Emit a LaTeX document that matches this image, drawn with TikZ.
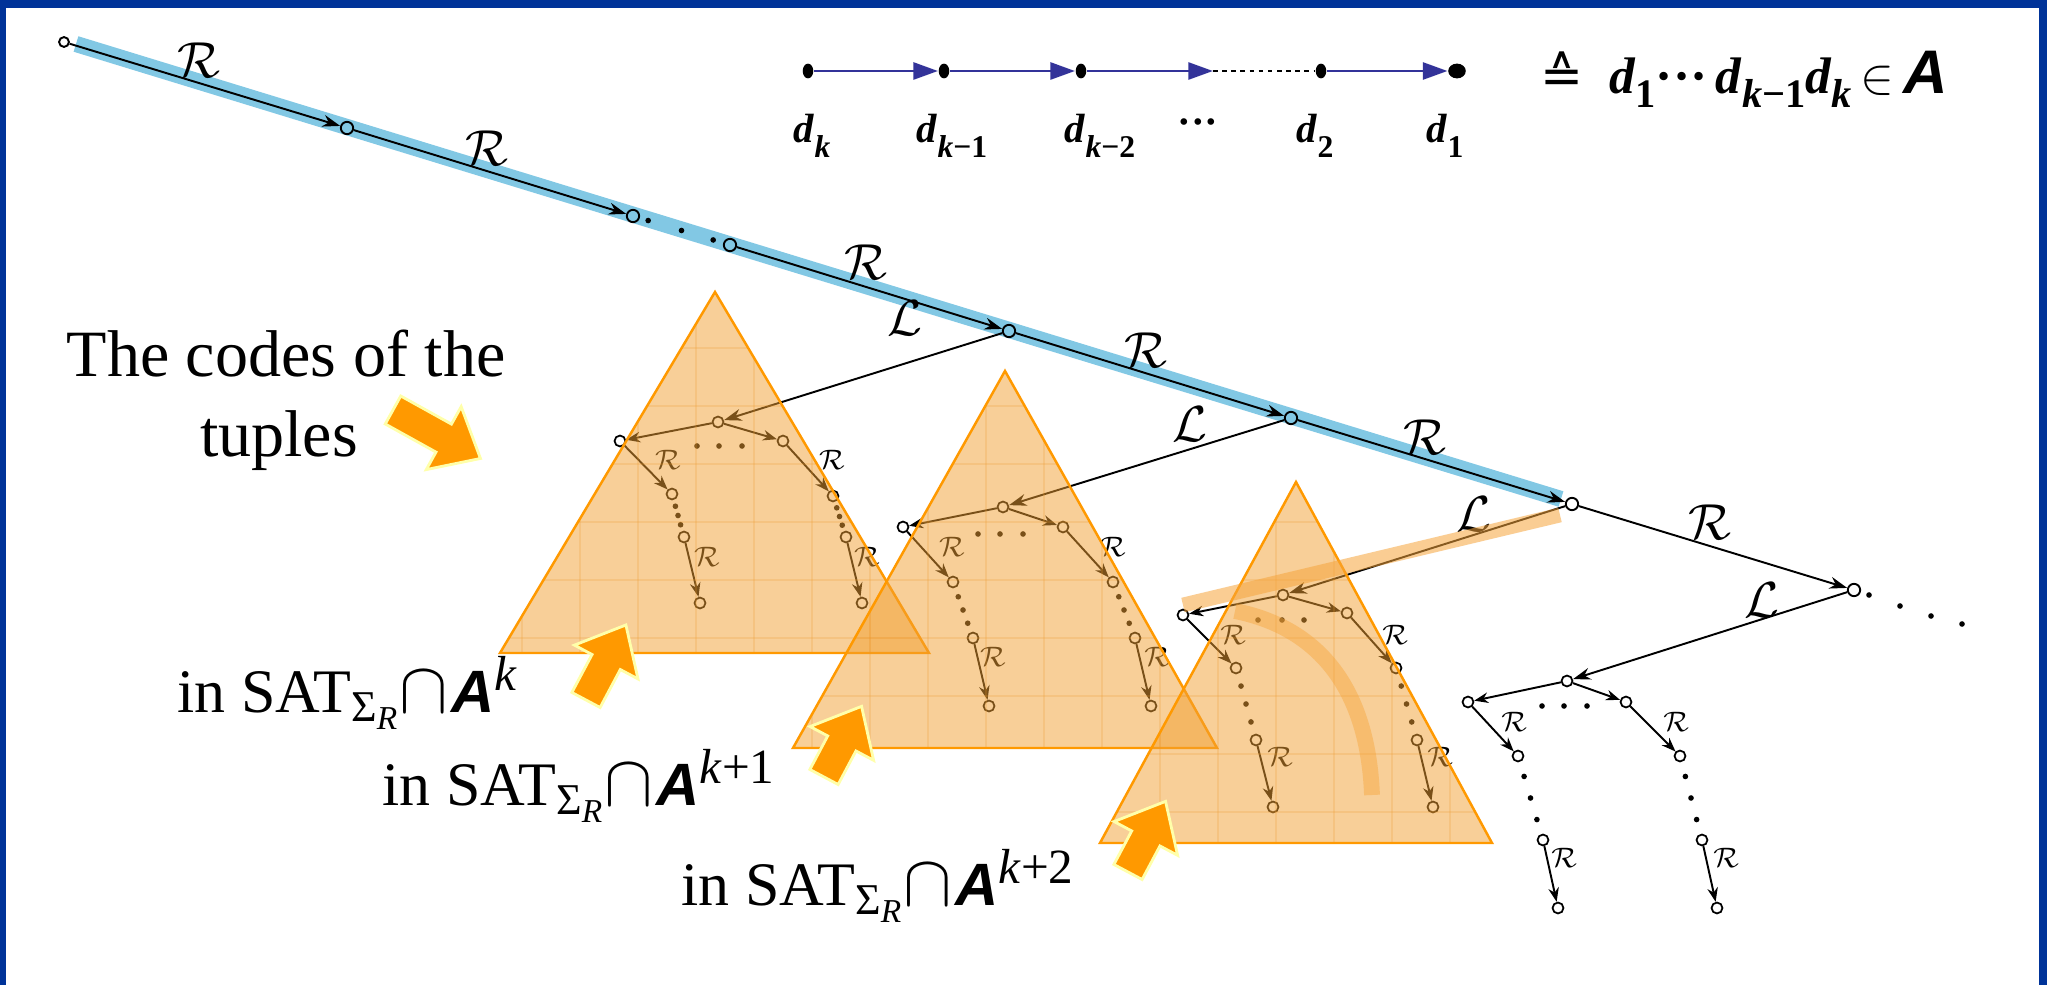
\documentclass[tikz,border=0pt]{standalone}
\usepackage{fontspec}
\setmainfont{Liberation Serif}
\newfontfamily\sansA{Liberation Sans}
\newfontfamily\dejavu{DejaVu Sans}
\usetikzlibrary{arrows.meta,shapes.geometric}
\definecolor{frameblue}{RGB}{0,51,153}
\definecolor{bandblue}{RGB}{130,200,228}
\definecolor{triedge}{RGB}{255,153,0}
\definecolor{trifill}{RGB}{242,160,50}
\definecolor{gridc}{RGB}{235,150,40}
\definecolor{arrowfill}{RGB}{255,153,0}
\definecolor{arrowedge}{RGB}{255,255,170}
\definecolor{navyline}{RGB}{51,51,153}
\definecolor{bandorange}{RGB}{246,165,60}
\newcommand{\Abold}{{\sansA\bfseries\itshape A}}
\newcommand{\satlab}[1]{in SAT\raisebox{-2.6pt}{\fontsize{12.5pt}{13pt}\selectfont Σ\raisebox{-2.4pt}{\fontsize{9.5pt}{10pt}\selectfont\textit{R}}}\hspace{0.5pt}{\fontsize{22pt}{22pt}\selectfont$\cap$}\hspace{1pt}{\fontsize{17pt}{17pt}\selectfont\Abold}\raisebox{6pt}{\fontsize{14pt}{14pt}\selectfont #1}}
\newcommand{\dl}[1]{\textbf{\textit{d}}\raisebox{-4pt}{\fontsize{9pt}{9pt}\selectfont\textbf{#1}}}
\newcommand{\dF}[1]{\textbf{\textit{d}}\raisebox{-3.9pt}{\fontsize{11.5pt}{12pt}\selectfont\textbf{#1}}}
\newcommand{\blockarrow}[3]{%
 \begin{scope}[shift={#1},rotate=#2]
 \filldraw[fill=arrowfill,draw=arrowedge,line width=0.8pt,line join=miter] (0,-16) -- (#3-42,-16) -- (#3-42,-36) -- (#3,0) -- (#3-42,36) -- (#3-42,16) -- (0,16) -- cycle;
 \end{scope}}
\newcommand{\tri}[3]{%
 \fill[trifill,opacity=0.5] #1 -- #2 -- #3 -- cycle;
 \begin{scope}
 \clip #1 -- #2 -- #3 -- cycle;
 \foreach \gx in {0,58,...,2030} {\draw[gridc,line width=0.3pt,opacity=0.2] (\gx,0) -- (\gx,985);}
 \foreach \gy in {0,58,...,980} {\draw[gridc,line width=0.3pt,opacity=0.2] (0,\gy) -- (2047,\gy);}
 \end{scope}
 \draw[triedge,line width=0.7pt,line join=miter] #1 -- #2 -- #3 -- cycle;}
\begin{document}
\begin{tikzpicture}[x=0.01cm,y=-0.01cm,
 mn/.style={circle,draw,line width=0.55pt,inner sep=0pt,minimum size=3.5pt},
 tn/.style={circle,draw,line width=0.5pt,inner sep=0pt,minimum size=3.1pt},
 med/.style={line width=0.55pt,-{Stealth[length=5pt,width=3.4pt]}},
 ted/.style={line width=0.55pt,-{Stealth[length=4pt,width=3pt]}},
 sdot/.style={circle,fill,inner sep=0pt,minimum size=1.6pt},
 bigcal/.style={font=\fontsize{13.5pt}{14pt}\selectfont},
 smallcal/.style={font=\fontsize{8pt}{9pt}\selectfont},
 dnode/.style={ellipse,fill=black,inner sep=0pt,minimum width=3pt,minimum height=4.2pt},
 nav/.style={navyline,line width=0.85pt,-{Triangle[length=7pt,width=4.8pt]}},
 dlabel/.style={anchor=base,font=\fontsize{11.6pt}{12pt}\selectfont}]
\fill[white] (0,0) rectangle (2047,985);
\useasboundingbox (0,0) rectangle (2047,985);
\fill[frameblue] (0,0) rectangle (2047,8);
\fill[frameblue] (0,0) rectangle (6,985);
\fill[frameblue] (2039,0) rectangle (2047,985);

% blue band
\draw[bandblue,line width=4.6pt] (76,44) -- (1561,499);

% main chain
\node[mn,minimum size=2.8pt] (N0) at (64,42) {};
\node[mn] (N1) at (347,128) {};
\node[mn] (N2) at (633,216) {};
\node[mn] (N3) at (730,245) {};
\node[mn] (N4) at (1009,331) {};
\node[mn] (N5) at (1291,418) {};
\node[mn] (N6) at (1572,504) {};
\node[mn] (N7) at (1854,590) {};
\draw[med] (N0) -- (N1);
\draw[med] (N1) -- (N2);
\path (N2) -- (N3) node[sdot,pos=0.1]{} node[sdot,pos=0.5]{} node[sdot,pos=0.88]{};
\draw[med] (N3) -- (N4);
\draw[med] (N4) -- (N5);
\draw[med] (N5) -- (N6);
\draw[med] (N6) -- (N7);
\node[sdot] (e1) at (1869,595) {};
\node[sdot] (e2) at (1900,606) {};
\node[sdot] (e3) at (1931,616) {};
\node[sdot] (e4) at (1962,624) {};
\node[bigcal] (lR1) at (199,60) {$\mathcal{R}$};
\node[bigcal] (lR2) at (487,148) {$\mathcal{R}$};
\node[bigcal] (lR3) at (866,262) {$\mathcal{R}$};
\node[bigcal] (lR4) at (1146,350) {$\mathcal{R}$};
\node[bigcal] (lR5) at (1425,437) {$\mathcal{R}$};
\node[bigcal] (lR6) at (1710,522) {$\mathcal{R}$};
\node[bigcal] (lL1) at (905,318) {$\mathcal{L}$};
\node[bigcal] (lL2) at (1190,424) {$\mathcal{L}$};
\node[bigcal] (lL3) at (1474,514) {$\mathcal{L}$};
\node[bigcal] (lL4) at (1762,600) {$\mathcal{L}$};

% subtree 1
\node[tn] (r1) at (718,422) {};
\node[tn] (a1) at (620,441) {};
\node[tn] (b1) at (783,441) {};
\node[tn] (a1p) at (672,494) {};
\node[tn] (a1pp) at (684,537) {};
\node[tn] (a1ppp) at (700,603) {};
\node[tn] (b1p) at (833,496) {};
\node[tn] (b1pp) at (846,537) {};
\node[tn] (b1ppp) at (862,603) {};
\draw[med] (N4) -- (r1);
\draw[ted] (r1) -- (a1);
\draw[ted] (r1) -- (b1);
\draw[ted] (a1) -- (a1p);
\draw[ted] (a1pp) -- (a1ppp);
\draw[ted] (b1) -- (b1p);
\draw[ted] (b1pp) -- (b1ppp);
\path (a1p) -- (a1pp) node[sdot,pos=0.2]{} node[sdot,pos=0.5]{} node[sdot,pos=0.8]{};
\path (b1p) -- (b1pp) node[sdot,pos=0.2]{} node[sdot,pos=0.5]{} node[sdot,pos=0.8]{};
\node[sdot] (c11) at (697,446) {};
\node[sdot] (c12) at (719,446) {};
\node[sdot] (c13) at (742,446) {};
\node[smallcal] (s11) at (668,460) {$\mathcal{R}$};
\node[smallcal] (s12) at (707,557) {$\mathcal{R}$};
\node[smallcal] (s13) at (832,460) {$\mathcal{R}$};
\node[smallcal] (s14) at (867,557) {$\mathcal{R}$};

% subtree 2
\node[tn] (r2) at (1003,507) {};
\node[tn] (a2) at (903,527) {};
\node[tn] (b2) at (1063,527) {};
\node[tn] (a2p) at (953,582) {};
\node[tn] (a2pp) at (973,638) {};
\node[tn] (a2ppp) at (989,706) {};
\node[tn] (b2p) at (1113,582) {};
\node[tn] (b2pp) at (1135,638) {};
\node[tn] (b2ppp) at (1151,706) {};
\draw[med] (N5) -- (r2);
\draw[ted] (r2) -- (a2);
\draw[ted] (r2) -- (b2);
\draw[ted] (a2) -- (a2p);
\draw[ted] (a2pp) -- (a2ppp);
\draw[ted] (b2) -- (b2p);
\draw[ted] (b2pp) -- (b2ppp);
\path (a2p) -- (a2pp) node[sdot,pos=0.2]{} node[sdot,pos=0.5]{} node[sdot,pos=0.8]{};
\path (b2p) -- (b2pp) node[sdot,pos=0.2]{} node[sdot,pos=0.5]{} node[sdot,pos=0.8]{};
\node[sdot] (c21) at (978,534) {};
\node[sdot] (c22) at (1000,534) {};
\node[sdot] (c23) at (1023,534) {};
\node[smallcal] (s21) at (952,547) {$\mathcal{R}$};
\node[smallcal] (s22) at (993,657) {$\mathcal{R}$};
\node[smallcal] (s23) at (1113,547) {$\mathcal{R}$};
\node[smallcal] (s24) at (1157,657) {$\mathcal{R}$};

% subtree 3
\node[tn] (r3) at (1283,595) {};
\node[tn] (a3) at (1183,615) {};
\node[tn] (b3) at (1347,613) {};
\node[tn] (a3p) at (1236,668) {};
\node[tn] (a3pp) at (1256,740) {};
\node[tn] (a3ppp) at (1273,807) {};
\node[tn] (b3p) at (1396,668) {};
\node[tn] (b3pp) at (1417,740) {};
\node[tn] (b3ppp) at (1433,807) {};
\draw[med] (N6) -- (r3);
\draw[ted] (r3) -- (a3);
\draw[ted] (r3) -- (b3);
\draw[ted] (a3) -- (a3p);
\draw[ted] (a3pp) -- (a3ppp);
\draw[ted] (b3) -- (b3p);
\draw[ted] (b3pp) -- (b3ppp);
\path (a3p) -- (a3pp) node[sdot,pos=0.2]{} node[sdot,pos=0.5]{} node[sdot,pos=0.8]{};
\path (b3p) -- (b3pp) node[sdot,pos=0.2]{} node[sdot,pos=0.5]{} node[sdot,pos=0.8]{};
\node[sdot] (c31) at (1258,620) {};
\node[sdot] (c32) at (1282,620) {};
\node[sdot] (c33) at (1304,620) {};
\node[smallcal] (s31) at (1233,635) {$\mathcal{R}$};
\node[smallcal] (s32) at (1280,757) {$\mathcal{R}$};
\node[smallcal] (s33) at (1395,635) {$\mathcal{R}$};
\node[smallcal] (s34) at (1440,757) {$\mathcal{R}$};

% subtree 4
\node[tn] (r4) at (1567,681) {};
\node[tn] (a4) at (1468,702) {};
\node[tn] (b4) at (1626,702) {};
\node[tn] (a4p) at (1518,756) {};
\node[tn] (a4pp) at (1543,840) {};
\node[tn] (a4ppp) at (1558,908) {};
\node[tn] (b4p) at (1680,756) {};
\node[tn] (b4pp) at (1702,840) {};
\node[tn] (b4ppp) at (1717,908) {};
\draw[med] (N7) -- (r4);
\draw[ted] (r4) -- (a4);
\draw[ted] (r4) -- (b4);
\draw[ted] (a4) -- (a4p);
\draw[ted] (a4pp) -- (a4ppp);
\draw[ted] (b4) -- (b4p);
\draw[ted] (b4pp) -- (b4ppp);
\path (a4p) -- (a4pp) node[sdot,pos=0.2]{} node[sdot,pos=0.5]{} node[sdot,pos=0.8]{};
\path (b4p) -- (b4pp) node[sdot,pos=0.2]{} node[sdot,pos=0.5]{} node[sdot,pos=0.8]{};
\node[sdot] (c41) at (1542,706) {};
\node[sdot] (c42) at (1564,706) {};
\node[sdot] (c43) at (1587,706) {};
\node[smallcal] (s41) at (1514,722) {$\mathcal{R}$};
\node[smallcal] (s42) at (1564,858) {$\mathcal{R}$};
\node[smallcal] (s43) at (1676,722) {$\mathcal{R}$};
\node[smallcal] (s44) at (1726,858) {$\mathcal{R}$};

% triangles
\tri{(715,292)}{(500,653)}{(929,653)}
\tri{(1005,371)}{(793,748)}{(1217,748)}
\tri{(1296,482)}{(1100,843)}{(1492,843)}

% orange highlight bands
\draw[bandorange,opacity=0.55,line width=4.2pt] (1183,605) -- (1560,515);
\draw[bandorange,opacity=0.45,line width=4.5pt] (1235,611) .. controls (1320,628) and (1368,690) .. (1372,795);

% block arrows
\blockarrow{(393,410)}{-29}{100}
\blockarrow{(586,700)}{62}{85}
\blockarrow{(824,777)}{62}{80}
\blockarrow{(1128,872)}{62}{80}

% texts
\node[anchor=base,font=\fontsize{18.8pt}{20pt}\selectfont] (codes) at (286,377) {The codes of the};
\node[anchor=base,font=\fontsize{18.8pt}{20pt}\selectfont] (tuples) at (279,457) {tuples};
\node[anchor=base west,inner sep=0pt,font=\fontsize{17.6pt}{18pt}\selectfont] (sat0) at (177,712) {\satlab{\textit{k}}};
\node[anchor=base west,inner sep=0pt,font=\fontsize{17.6pt}{18pt}\selectfont] (sat1) at (382,805) {\satlab{\textit{k}+1}};
\node[anchor=base west,inner sep=0pt,font=\fontsize{17.6pt}{18pt}\selectfont] (sat2) at (681,905) {\satlab{\textit{k}+2}};

% d chain
\node[dnode] (dK) at (808,71) {};
\node[dnode] (dK1) at (944,71) {};
\node[dnode] (dK2) at (1081,71) {};
\coordinate (m) at (1213,71);
\node[dnode] (d2) at (1321,71) {};
\node[dnode,minimum width=5pt] (d1) at (1457,71) {};
\draw[nav] (dK) -- (dK1);
\draw[nav] (dK1) -- (dK2);
\draw[nav] (dK2) -- (m);
\draw[line width=0.6pt,dash pattern=on 1.3pt off 1.3pt] (m) -- (d2);
\draw[nav] (d2) -- (d1);
\node[dlabel] (tK) at (812,143) {\dl{\textit{k}}};
\node[dlabel] (tK1) at (952,143) {\dl{\textit{k}−1}};
\node[dlabel] (tK2) at (1100,143) {\dl{\textit{k}−2}};
\node[dlabel] (tdots) at (1198,136) {\textbf{···}};
\node[dlabel] (t2) at (1315,143) {\dl{2}};
\node[dlabel] (t1) at (1445,143) {\dl{1}};
\node[anchor=base west,inner sep=0pt,font=\fontsize{14.6pt}{15pt}\selectfont] (formula) at (1540,94) {{\dejavu ≙}\ \ \dF{1}\textbf{···}\,\dF{\textit{k}−1}\dF{\textit{k}}\,$\in$\,{\fontsize{17.5pt}{17.5pt}\selectfont\Abold}};
\end{tikzpicture}
\end{document}
